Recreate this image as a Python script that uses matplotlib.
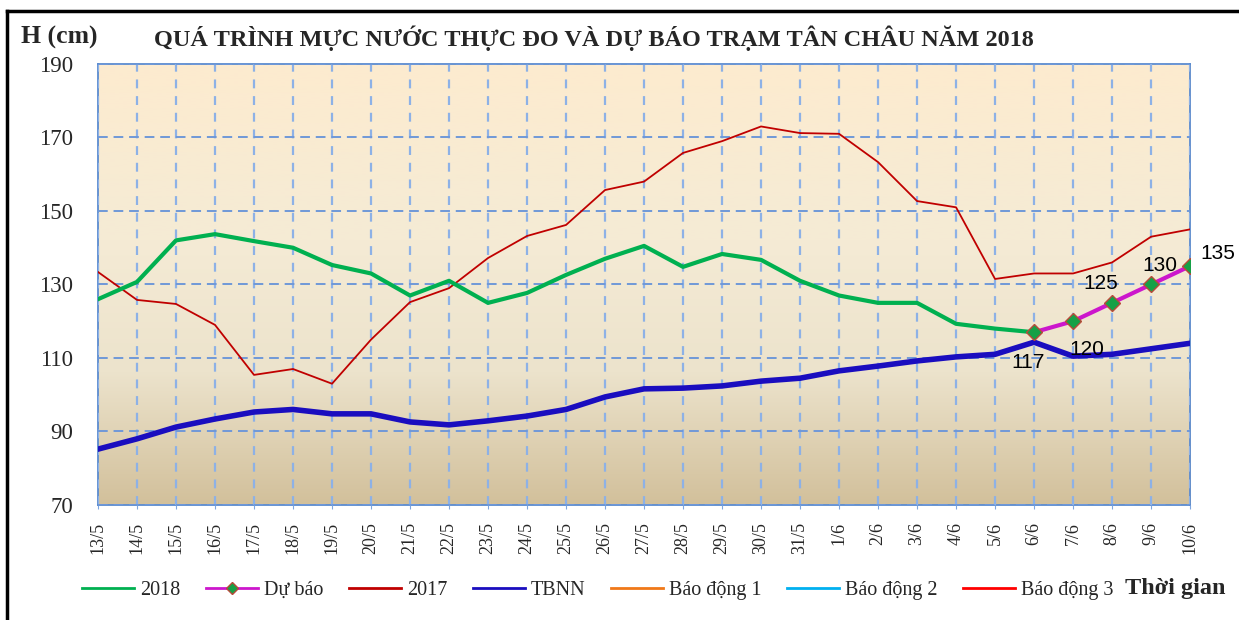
import numpy as np
import matplotlib
matplotlib.use('Agg')
import matplotlib.pyplot as plt
from matplotlib.colors import LinearSegmentedColormap
from matplotlib.lines import Line2D

days = ['13/5', '14/5', '15/5', '16/5', '17/5', '18/5', '19/5', '20/5', '21/5', '22/5',
        '23/5', '24/5', '25/5', '26/5', '27/5', '28/5', '29/5', '30/5', '31/5',
        '1/6', '2/6', '3/6', '4/6', '5/6', '6/6', '7/6', '8/6', '9/6', '10/6']

# 2018 observed, up to 6/6
h2018 = [126, 130.7, 142, 143.7, 141.8, 140, 135.3, 133, 127, 131,
         125, 127.7, 132.6, 137, 140.5, 134.8, 138.3, 136.7, 131,
         127, 125, 125, 119.3, 118, 117]
# forecast 6/6 -> 10/6
forecast = [117, 120, 125, 130, 135]
h2017 = [133.4, 125.8, 124.7, 119, 105.4, 107, 103, 115, 125.2, 129,
         137.2, 143.2, 146.2, 155.7, 158, 165.8, 169, 173, 171.2,
         171, 163.3, 152.7, 151, 131.5, 133, 133, 136, 143, 145]
tbnn = [85.2, 88, 91.2, 93.4, 95.3, 96, 94.8, 94.8, 92.6, 91.8,
        92.9, 94.2, 96, 99.4, 101.6, 101.8, 102.4, 103.7, 104.5,
        106.5, 107.8, 109.2, 110.3, 111, 114.3, 110.5, 111, 112.5, 114]

x = np.arange(len(days))
xf = x[len(h2018) - 1:]

fig = plt.figure(figsize=(12.39, 6.2), dpi=100)
ax = fig.add_axes([0.0791, 0.1855, 0.8814, 0.7113])

# gradient background
cmap = LinearSegmentedColormap.from_list('bg', [(0, '#d2c09b'), (0.3, '#ece3cc'),
                                                (0.6, '#f5ebd5'), (1, '#fdebcf')])
grad = np.linspace(0, 1, 256).reshape(-1, 1)
ax.imshow(grad, aspect='auto', cmap=cmap, origin='lower',
          extent=[0, 1, 0, 1], transform=ax.transAxes, zorder=0)

ax.set_xlim(0, len(days) - 1)
ax.set_ylim(70, 190)
ax.set_yticks(np.arange(70, 191, 20))
ax.set_xticks(x)
ax.set_xticklabels(days, rotation=90, family='Liberation Serif', fontsize=13)
for lb in ax.get_yticklabels():
    lb.set_family('Liberation Serif')
    lb.set_fontsize(16.5)
    lb.set_color('#262626')
ax.tick_params(axis='y', length=0, pad=18)
ax.tick_params(axis='x', length=3, color='#7ea6e0', pad=9, labelcolor='#262626')

ax.grid(True, axis='x', color='#8db1e6', linestyle=(0, (4, 3.5)), linewidth=1.6, zorder=1)
ax.grid(True, axis='y', color='#6f98d8', linestyle=(0, (5, 3)), linewidth=1.4, zorder=1)
for s in ax.spines.values():
    s.set_color('#5b8bd0')
    s.set_linewidth(1.3)

ax.plot(x, tbnn, color='#1a0dbf', lw=4, solid_joinstyle='round', zorder=3)
ax.plot(x, h2017, color='#c00000', lw=1.3, solid_joinstyle='round', zorder=3)
ax.plot(x[:len(h2018)], h2018, color='#00b050', lw=3, solid_joinstyle='round', zorder=4)
ax.plot(xf, forecast, color='#cc16cc', lw=3, marker='D', markersize=8,
        markerfacecolor='#16a046', markeredgecolor='#b84a3a', markeredgewidth=1, zorder=5)

# forecast value labels
offs = [(-4, -22), (10, -20), (-8, 14), (6, 14), (20, 9)]
for xi, v, (dx, dy) in zip(xf, forecast, offs):
    ax.annotate(str(v), (xi, v), xytext=(dx, dy), textcoords='offset points',
                ha='center', va='center', fontsize=15, family='Liberation Sans',
                color='black', annotation_clip=False, zorder=6)

ax.set_axisbelow(False)

fig.text(0.017, 0.939, 'H (cm)', family='Liberation Serif', fontweight='bold',
         fontsize=18.5, va='center', ha='left', color='#262626')
fig.text(0.479, 0.939, 'QUÁ TRÌNH MỰC NƯỚC THỰC ĐO VÀ DỰ BÁO TRẠM TÂN CHÂU NĂM 2018',
         family='Liberation Serif', fontweight='bold', fontsize=17.5,
         va='center', ha='center', color='#262626')
fig.text(0.9895, 0.051, 'Thời gian', family='Liberation Serif', fontweight='bold',
         fontsize=17.5, va='center', ha='right', color='#262626')

handles = [
    Line2D([], [], color='#00b050', lw=2),
    Line2D([], [], color='#cc16cc', lw=2, marker='D', markersize=6,
           markerfacecolor='#16a046', markeredgecolor='#b84a3a'),
    Line2D([], [], color='#c00000', lw=2),
    Line2D([], [], color='#1a0dbf', lw=2),
    Line2D([], [], color='#f07818', lw=2),
    Line2D([], [], color='#00b0f0', lw=2),
    Line2D([], [], color='#ff0000', lw=2),
]
names = ['2018', 'Dự báo', '2017', 'TBNN', 'Báo động 1', 'Báo động 2', 'Báo động 3']
leg = fig.legend(handles, names, loc='center left', bbox_to_anchor=(0.066, 0.048),
                 ncol=7, frameon=False, handlelength=2.6, columnspacing=1.25,
                 handletextpad=0.3, borderpad=0, borderaxespad=0,
                 prop={'family': 'Liberation Serif', 'size': 14.5})
for t in leg.get_texts():
    t.set_color('#262626')

# outer frame
fig.add_artist(Line2D([0.006, 0.006], [0, 0.982], color='black', lw=2.5))
fig.add_artist(Line2D([0.006, 1], [0.982, 0.982], color='black', lw=2.5))

fig.savefig('out.png', dpi=100)
